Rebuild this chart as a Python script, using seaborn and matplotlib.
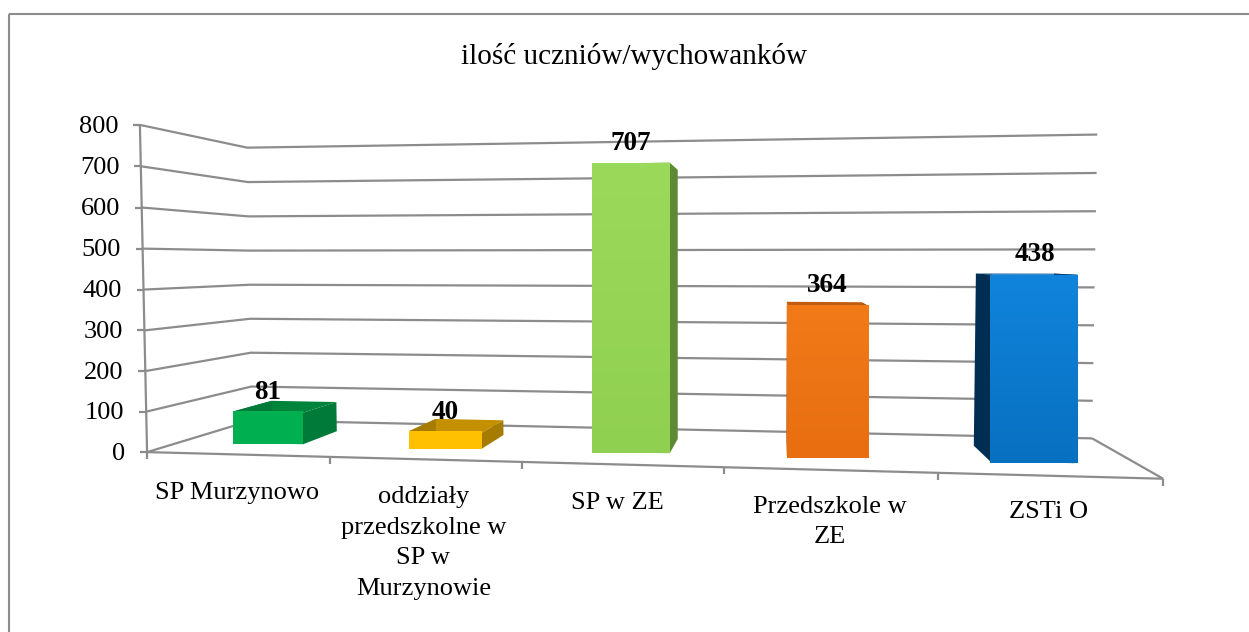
import numpy as np
import pandas as pd
import matplotlib
matplotlib.use("Agg")
import matplotlib.pyplot as plt
from matplotlib.transforms import Transform
from matplotlib.patches import Polygon, Rectangle
from matplotlib.colors import LinearSegmentedColormap
import seaborn as sns

# ---------- data ----------
title = "ilość uczniów/wychowanków"
categories = ["SP Murzynowo", "oddziały\nprzedszkolne w\nSP w\nMurzynowie", "SP w ZE",
              "Przedszkole w\nZE", "ZSTi O"]
values = [81, 40, 707, 364, 438]
value_ticks = [0, 100, 200, 300, 400, 500, 600, 700, 800]

# ---------- style ----------
front_top = ["#00B050", "#FFC000", "#9BD95A", "#F27A18", "#1084DC"]
front_bottom = ["#00B050", "#FFC000", "#90D050", "#E86E10", "#0870C0"]
side_colors = ["#007A38", "#A67C00", "#5F8A35", "#B05A10", "#002E52"]
top_colors = ["#00843C", "#C49000", "#7DB040", "#C05C10", "#0A5CA0"]
grid_color = "#8C8C8C"
WIDTH, HEIGHT = 1249, 632
BAR_WIDTH = 0.4
D_FRONT, D_BACK = 0.30, 0.70
FONT = "Liberation Serif"
FS = 19
label_nudge = [0, -1, -3, 0, 0]
label_drop = [-19.5, -19.5, -20, -18.5, -18.5]

sns.set_theme(style="white")
plt.rcParams["font.family"] = [FONT, "DejaVu Sans"]

# ---------- perspective calibrated on the chart box (x, value, depth) -> pixel ----------
calib_box = [(0, 0, 0), (5, 0, 0), (0, 800, 0), (0, 400, 0), (0, 0, 1), (5, 0, 1), (0, 800, 1), (5, 800, 1),
             (1, 0, 0), (2, 0, 0), (4, 0, 0), (0, 200, 1), (5, 700, 1)]
calib_px = [(147, 452), (1163, 479), (140, 125), (143.5, 289), (252, 421), (1092, 438), (247, 148), (1097, 134.5),
            (330, 457), (522, 462), (938, 473), (251, 352), (1097, 173)]


def fit_projection(box, px):
    rows = []
    for (x, v, d), (u, w) in zip(box, px):
        X = [x, v / 800, d, 1]
        rows.append(X + [0] * 4 + [-u * c for c in X])
        rows.append([0] * 4 + X + [-w * c for c in X])
    return np.linalg.svd(np.array(rows, float))[2][-1].reshape(3, 4)


P = fit_projection(calib_box, calib_px)


def project(x, v, d):
    x, v, d = np.broadcast_arrays(np.asarray(x, float), np.asarray(v, float), np.asarray(d, float))
    h = P @ np.stack([x, v / 800, d, np.ones_like(x)])
    return np.stack([h[0] / h[2], h[1] / h[2]], axis=-1)


class BarPlane(Transform):
    """Maps seaborn's (category index, value) to pixels at a given depth."""
    input_dims = output_dims = 2
    is_separable = False
    has_inverse = False

    def __init__(self, plane_depth):
        super().__init__()
        self.plane_depth = plane_depth

    def transform_non_affine(self, values):
        values = np.asarray(values, float)
        return project(values[:, 0] + 0.5, values[:, 1], self.plane_depth)


# ---------- figure ----------
fig = plt.figure(figsize=(WIDTH / 100, HEIGHT / 100), dpi=100, facecolor="white")
ax = fig.add_axes([0, 0, 1, 1])

df = pd.DataFrame({"category": categories, "value": values})
sns.barplot(data=df, x="category", y="value", hue="category", palette=front_bottom, saturation=1,
            width=BAR_WIDTH, dodge=False, legend=False, ax=ax)
bars = list(ax.patches)
order = np.argsort([b.get_x() for b in bars])
bars = [bars[i] for i in order]
plane = BarPlane(D_FRONT) + ax.transData

# outer frame
ax.add_patch(Rectangle((9, 13.5), 2000, 2000, fill=False, ec=grid_color, lw=1.5, zorder=1))

# walls and floor
line_kw = dict(color=grid_color, lw=1.6, zorder=2, solid_joinstyle="miter", solid_capstyle="butt")
for v in value_ticks:
    pts = project([0, 0, 5], v, [0, 1, 1])
    ax.plot(pts[:, 0], pts[:, 1], **line_kw)
    t = project(0, v, 0)
    ax.plot([t[0] - 7, t[0]], [t[1], t[1]], **line_kw)
    ax.annotate(str(v), xy=t, xytext=(-15.5, -1.2), textcoords="offset points", ha="right", va="center",
                fontsize=FS, color="black", family=FONT, annotation_clip=False)
pts = project([0, 5, 5], 0, [0, 0, 1])
ax.plot(pts[:, 0], pts[:, 1], **line_kw)
pts = project([0, 0], [0, 800], 0)
ax.plot(pts[:, 0], pts[:, 1], **line_kw)
for i in range(6):
    t = project(i, 0, 0)
    ax.plot([t[0], t[0]], [t[1], t[1] + 7], **line_kw)

# bars: seaborn's rectangles become the front faces; other faces share their geometry
for i, b in enumerate(bars):
    x0 = b.get_x() + 0.5
    x1 = x0 + b.get_width()
    v = b.get_height()
    b.set_transform(plane)
    b.set_zorder(5 + i)
    b.set_linewidth(0)
    for xs, vs, ds, col in [
        ([x0, x1, x1, x0], [v] * 4, [D_FRONT, D_FRONT, D_BACK, D_BACK], top_colors[i]),
        ([x1, x1, x1, x1], [0, v, v, 0], [D_FRONT, D_FRONT, D_BACK, D_BACK], side_colors[i]),
        ([x0, x0, x0, x0], [0, v, v, 0], [D_FRONT, D_FRONT, D_BACK, D_BACK], side_colors[i]),
    ]:
        ax.add_patch(Polygon(project(xs, vs, ds), closed=True, fc=col, ec="none", zorder=4.5 + i))
    corners = project([x0, x1, x1, x0], [0, 0, v, v], D_FRONT)
    cmap = LinearSegmentedColormap.from_list("f", [front_top[i], front_bottom[i]])
    im = ax.imshow(np.linspace(0, 1, 64).reshape(-1, 1), cmap=cmap, aspect="auto", origin="upper",
                   extent=(corners[:, 0].min(), corners[:, 0].max(), corners[:, 1].max(), corners[:, 1].min()),
                   zorder=5.2 + i)
    im.set_clip_path(b)
    top_mid = project((x0 + x1) / 2, v, D_FRONT)
    ax.annotate(str(values[i]), xy=top_mid, xytext=(0, 14.2), textcoords="offset points", ha="center",
                va="center", fontsize=19.5, fontweight="bold", color="black", family=FONT, zorder=20)
    base = project(i + 0.5, 0, 0)
    ax.annotate(categories[i], xy=base, xytext=(label_nudge[i], label_drop[i]), textcoords="offset points",
                ha="center", va="top", fontsize=FS, color="black", family=FONT, linespacing=1.5,
                multialignment="center")

ax.text(634, 56, title, ha="center", va="center", fontsize=21, color="black", family=FONT)

ax.set_xlim(0, WIDTH)
ax.set_ylim(HEIGHT, 0)
ax.set_axis_off()
fig.savefig("out.png", dpi=100, facecolor="white")
